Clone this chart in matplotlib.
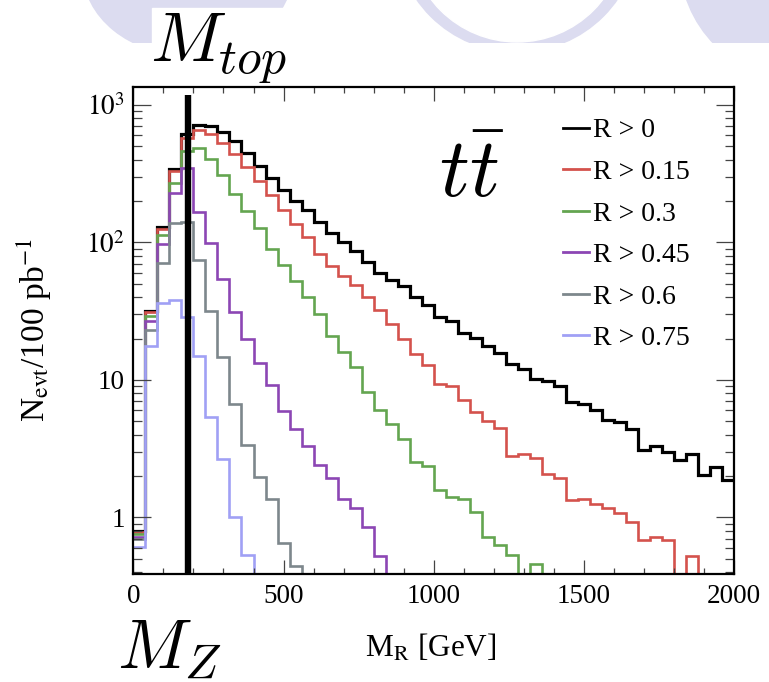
import numpy as np
import matplotlib
matplotlib.use('Agg')
import matplotlib.pyplot as plt
from matplotlib.patches import Ellipse, Circle, Rectangle
from matplotlib.ticker import FixedLocator, MultipleLocator, NullFormatter, LogLocator

# ---------------- data (40 GeV bins, 0-2000 GeV) ----------------
bin_edges = np.arange(0, 2001, 40)
series_labels = ['R > 0', 'R > 0.15', 'R > 0.3', 'R > 0.45', 'R > 0.6', 'R > 0.75']

r_gt_0 = [0.8, 31.8, 130, 342, 615, 720, 700, 635, 545, 445,
          360, 292, 240, 200, 172, 140, 118, 100, 86, 72,
          60, 53, 48, 40, 35, 28.5, 27, 22, 20.3, 17.6,
          15.6, 13, 12.1, 10.2, 9.8, 9.0, 6.9, 6.7, 6.0, 5.1,
          4.9, 4.4, 3.1, 3.3, 3.0, 2.6, 2.9, 2.03, 2.33, 1.87]
r_gt_015 = [0.78, 31, 126, 330, 575, 660, 615, 530, 440, 355,
            280, 222, 172, 136, 110, 82, 67, 57, 49, 40,
            32, 25.5, 20, 15.5, 12.8, 9.4, 9.1, 7.1, 5.8, 5.0,
            4.5, 2.8, 2.9, 2.7, 2.08, 1.92, 1.33, 1.37, 1.26, 1.16,
            1.07, 0.93, 0.68, 0.72, 0.68, 0, 0.52, 0, 0, 0]
r_gt_03 = [0.75, 29, 113, 270, 460, 486, 406, 310, 225, 170,
           128, 89, 68, 52, 40, 30, 21, 16, 12.5, 8.2,
           6.0, 4.8, 3.7, 2.54, 2.36, 1.58, 1.40, 1.35, 1.10, 0.72,
           0.63, 0.53, 0, 0.46, 0, 0, 0, 0, 0, 0,
           0, 0, 0, 0, 0, 0, 0, 0, 0, 0]
r_gt_045 = [0.72, 27, 97, 228, 346, 167, 99, 54, 31, 20,
            13.2, 9.2, 5.9, 4.4, 3.3, 2.4, 1.92, 1.37, 1.16, 0.85,
            0.52, 0, 0, 0, 0, 0, 0, 0, 0, 0,
            0, 0, 0, 0, 0, 0, 0, 0, 0, 0,
            0, 0, 0, 0, 0, 0, 0, 0, 0, 0]
r_gt_06 = [0.69, 23, 71, 138, 142, 75, 31.5, 14.7, 6.7, 3.36,
           1.97, 1.37, 0.65, 0.44, 0, 0, 0, 0, 0, 0,
           0, 0, 0, 0, 0, 0, 0, 0, 0, 0,
           0, 0, 0, 0, 0, 0, 0, 0, 0, 0,
           0, 0, 0, 0, 0, 0, 0, 0, 0, 0]
r_gt_075 = [0.61, 17.6, 36, 38, 28.5, 15, 5.4, 2.65, 1.0, 0.53,
            0, 0, 0, 0, 0, 0, 0, 0, 0, 0,
            0, 0, 0, 0, 0, 0, 0, 0, 0, 0,
            0, 0, 0, 0, 0, 0, 0, 0, 0, 0,
            0, 0, 0, 0, 0, 0, 0, 0, 0, 0]

x_ticks = [0, 500, 1000, 1500, 2000]
x_tick_labels = ['0', '500', '1000', '1500', '2000']
y_ticks = [1, 10, 100, 1000]
y_tick_labels = ['1', '10', '$10^{2}$', '$10^{3}$']
m_top_line = 182      # position of the thick vertical marker
m_top_line_top = 1183

series = [r_gt_0, r_gt_015, r_gt_03, r_gt_045, r_gt_06, r_gt_075]
colors = ['#000000', '#d4524c', '#64a550', '#8c46b4', '#7d878c', '#a0a0f5']
widths = [2.3, 1.9, 1.9, 1.9, 1.9, 1.9]

plt.rcParams['font.family'] = ['Liberation Serif', 'DejaVu Serif']
plt.rcParams['mathtext.fontset'] = 'stix'

W, H = 769, 682
fig = plt.figure(figsize=(W / 100, H / 100), dpi=100)

# ---------------- slide background decoration ----------------
bg = fig.add_axes([0, 0, 1, 1], zorder=0)
bg.set_xlim(0, W)
bg.set_ylim(H, 0)
bg.axis('off')
lav = '#dcdcf0'
band = Rectangle((0, 0), W, 43, transform=bg.transData)
shapes = [
    Ellipse((188, -30), 210, 170, color=lav),
    Circle((517, -70), 122, color=lav),
    Circle((517, -66), 108, color='white'),
    Circle((800, -40), 120, color=lav),
]
for p in shapes:
    bg.add_patch(p)
    p.set_clip_path(band)
bg.add_patch(Rectangle((152, 8), 140, 40, color='white'))

# ---------------- main axes ----------------
ax = fig.add_axes([133.3 / W, 1 - 574.3 / H, 601 / W, 487.3 / H], zorder=1)
ylo, yhi = 0.385, 1352
ax.set_yscale('log')
ax.set_xlim(0, 2000)
ax.set_ylim(ylo, yhi)

for vals, c, lw, lab in zip(series, colors, widths, series_labels):
    v = np.asarray(vals, dtype=float)
    v = np.where(v > 0, v, ylo)
    ax.stairs(v, bin_edges, baseline=None, color=c, lw=lw, label=lab)

ax.plot([m_top_line, m_top_line], [ylo, m_top_line_top], color='black',
        lw=4.6, solid_capstyle='butt', zorder=5)

ax.xaxis.set_major_locator(FixedLocator(x_ticks))
ax.set_xticklabels(x_tick_labels)
ax.xaxis.set_minor_locator(MultipleLocator(100))
ax.yaxis.set_major_locator(FixedLocator(y_ticks))
ax.set_yticklabels(y_tick_labels)
ax.yaxis.set_minor_locator(LogLocator(base=10, subs=np.arange(2, 10), numticks=30))
ax.yaxis.set_minor_formatter(NullFormatter())

ax.tick_params(which='both', direction='in', top=True, right=True,
               color='#444444', width=0.9, labelsize=19.5)
ax.xaxis.set_tick_params(which='major', length=10, pad=7)
ax.xaxis.set_tick_params(which='minor', length=4.5)
ax.yaxis.set_tick_params(which='major', length=13, pad=6)
ax.yaxis.set_tick_params(which='minor', length=6.5)
for s in ax.spines.values():
    s.set_linewidth(1.6)

ax.set_xlabel(r'M$_{\mathrm{R}}$ [GeV]', fontsize=22.5)
ax.xaxis.set_label_coords((431 - 133.3) / 601, (574.3 - 648) / 487.3)
ax.xaxis.label.set_va('center')
ax.set_ylabel(r'N$_{\mathrm{evt}}$/100 pb$^{\mathrm{-1}}$', fontsize=24)
ax.yaxis.set_label_coords((34 - 133.3) / 601, (574.3 - 330) / 487.3)
ax.yaxis.label.set_va('center')

leg = ax.legend(loc='upper left', bbox_to_anchor=(563 / W, 1 - 118 / H),
                bbox_transform=fig.transFigure, frameon=False, fontsize=20,
                handlelength=0.94, handletextpad=0.15, labelspacing=0.58,
                borderpad=0, borderaxespad=0)
for h in leg.get_lines():
    h.set_linewidth(2.0)

fig.text(472 / W, 1 - 197 / H, r'$t\bar{t}$', fontsize=60, math_fontfamily='cm',
         ha='center', va='baseline', zorder=3)
fig.text(150 / W, 1 - 62 / H, r'$M_{top}$', fontsize=51, math_fontfamily='cm',
         ha='left', va='baseline', zorder=3)
fig.text(117 / W, 1 - 668 / H, r'$M_Z$', fontsize=50, math_fontfamily='cm',
         ha='left', va='baseline', zorder=3)

fig.savefig('out.png', dpi=100)
